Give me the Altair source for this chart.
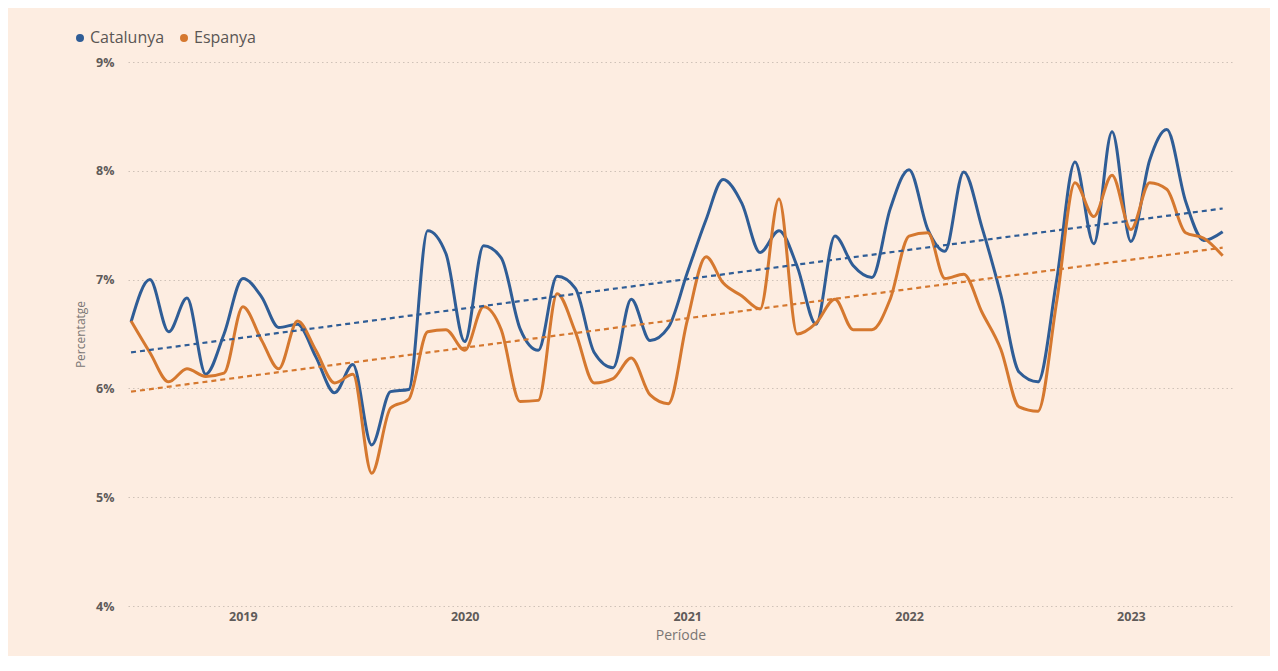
import altair as alt
import pandas as pd

# Monthly periods (Jul 2018 - Jun 2023)
MONTHS = pd.date_range("2018-07-01", periods=60, freq="MS").strftime("%Y-%m-%d").tolist()

CATALUNYA = [
    6.61, 7.00, 6.52, 6.83, 6.13, 6.50, 7.01, 6.84, 6.56, 6.59,
    6.29, 5.96, 6.22, 5.48, 5.97, 5.99, 7.45, 7.24, 6.43, 7.31,
    7.20, 6.55, 6.35, 7.03, 6.92, 6.33, 6.19, 6.82, 6.44, 6.56,
    7.06, 7.55, 7.92, 7.70, 7.25, 7.45, 7.12, 6.59, 7.40, 7.13,
    7.02, 7.65, 8.01, 7.46, 7.26, 7.99, 7.48, 6.86, 6.15, 6.06,
    7.00, 8.08, 7.33, 8.36, 7.35, 8.10, 8.38, 7.72, 7.36, 7.44,
]
ESPANYA = [
    6.62, 6.33, 6.06, 6.18, 6.11, 6.14, 6.75, 6.44, 6.18, 6.62,
    6.35, 6.05, 6.13, 5.22, 5.82, 5.90, 6.52, 6.54, 6.35, 6.75,
    6.54, 5.88, 5.89, 6.87, 6.52, 6.05, 6.09, 6.28, 5.94, 5.86,
    6.62, 7.21, 6.97, 6.85, 6.73, 7.74, 6.50, 6.60, 6.82, 6.54,
    6.54, 6.82, 7.40, 7.43, 7.01, 7.05, 6.70, 6.36, 5.83, 5.79,
    6.80, 7.89, 7.58, 7.96, 7.46, 7.89, 7.83, 7.43, 7.38, 7.22,
]
SERIES = ["Catalunya", "Espanya"]
COLORS = ["#2F5D96", "#D5782F"]
YEARS = [2019, 2020, 2021, 2022, 2023]
Y_TICKS = [4, 5, 6, 7, 8, 9]

df = pd.DataFrame({
    "date": MONTHS * 2,
    "value": CATALUNYA + ESPANYA,
    "series": [SERIES[0]] * len(CATALUNYA) + [SERIES[1]] * len(ESPANYA),
})

FONT = "Open Sans"
BG = "#FDEDE1"

x_scale = alt.Scale(
    type="utc",
    domain=[alt.DateTime(year=2018, month=6, date=26, utc=True),
            alt.DateTime(year=2023, month=6, date=18, utc=True)],
)
x_axis = alt.Axis(
    values=[alt.DateTime(year=y, month=1, date=1, utc=True) for y in YEARS],
    format="%Y", formatType="utc",
    title="Període", titleFontSize=14, titleFontWeight="normal", titleColor="#7A7674",
    titlePadding=6, titleFont=FONT,
    labelFontSize=12.5, labelFontWeight="bold", labelColor="#5F5B59", labelFont=FONT,
    labelPadding=4, domain=False, ticks=False, tickSize=0, grid=False,
)
y_axis = alt.Axis(
    values=Y_TICKS, labelExpr="datum.value + '%'",
    title="Percentatge", titleFontSize=12, titleFontWeight="normal", titleColor="#7A7674",
    titlePadding=8, titleFont=FONT,
    labelFontSize=12.5, labelFontWeight="bold", labelColor="#5F5B59", labelFont=FONT,
    labelPadding=14, domain=False, ticks=False, tickSize=0,
    grid=True, gridDash=[1.5, 3], gridColor="#CFC2B8", gridWidth=1.2,
)
legend = alt.Legend(
    title=None, orient="none", direction="horizontal",
    legendX=-56, legendY=-32, symbolType="circle", symbolSize=16,
    symbolStrokeWidth=4, labelFontSize=16, labelColor="#5A5654", labelFont=FONT,
    labelOffset=2, columnPadding=9, padding=0,
)
color = alt.Color("series:N", scale=alt.Scale(domain=SERIES, range=COLORS), legend=legend)

base = alt.Chart(df)
lines = base.mark_line(interpolate="monotone", strokeWidth=3).encode(
    x=alt.X("date:T", scale=x_scale, axis=x_axis),
    y=alt.Y("value:Q", scale=alt.Scale(domain=[4, 9], nice=False, zero=False), axis=y_axis),
    color=color,
)
trend = base.transform_regression(
    "date", "value", groupby=["series"]
).mark_line(strokeDash=[5, 4], strokeWidth=2.2).encode(
    x=alt.X("date:T", scale=x_scale, axis=x_axis),
    y=alt.Y("value:Q"),
    color=color,
)

chart = alt.layer(lines, trend).properties(
    width=1105, height=544,
    background=BG,
    autosize=alt.AutoSizeParams(type="none"),
    padding={"left": 120, "top": 54, "right": 37, "bottom": 50},
).configure_view(stroke=None)

chart.save("out.html", embed_options={"renderer": "svg", "actions": False})
